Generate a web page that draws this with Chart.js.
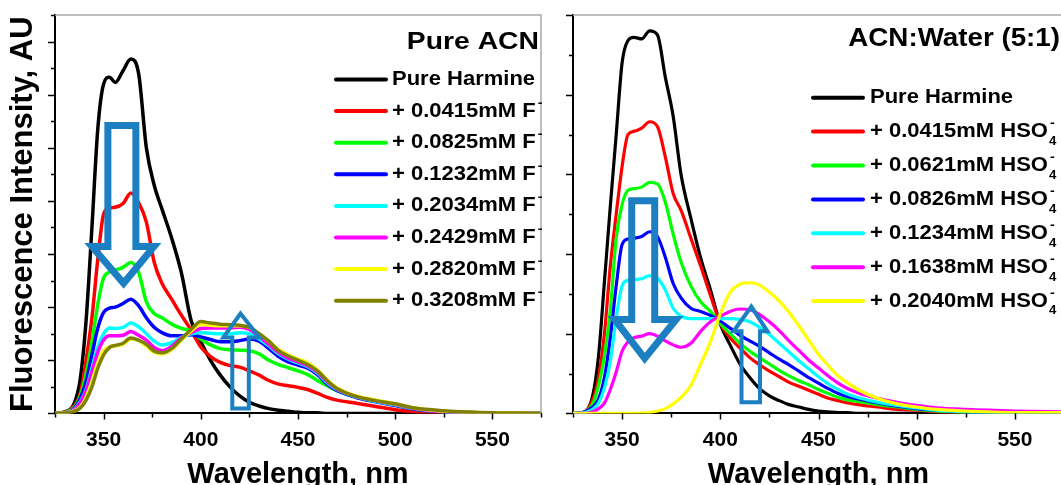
<!DOCTYPE html>
<html>
<head>
<meta charset="utf-8">
<script src="https://cdn.jsdelivr.net/npm/chart.js@4.4.1/dist/chart.umd.min.js"></script>
<style>
  html, body { margin: 0; padding: 0; background: #fff; overflow: hidden; }
  body { width: 1061px; height: 485px; position: relative; }
  canvas { position: absolute; top: 0; }
  #left { left: 0; }
  #right { left: 545px; }
</style>
</head>
<body>
<canvas id="left" width="560" height="485"></canvas>
<canvas id="right" width="530" height="485"></canvas>
<script>
const FONT = '"Liberation Sans", Arial, Helvetica, sans-serif';

// wavelength grid (nm) shared by every curve
const wavelengths = [325, 330, 335, 338, 341, 344, 347, 350, 353, 356, 360, 364, 368, 372, 376, 380,
  385, 390, 395, 400, 405, 410, 415, 420, 425, 430, 435, 440, 445, 450, 455, 460, 465, 470,
  480, 490, 500, 510, 525, 550, 575];
const xTickValues = [350, 400, 450, 500, 550];

// ---- Pure ACN + F- ----
const acnLabels = ['Pure Harmine', '+ 0.0415mM F', '+ 0.0825mM F', '+ 0.1232mM F',
  '+ 0.2034mM F', '+ 0.2429mM F', '+ 0.2820mM F', '+ 0.3208mM F'];
const acnColors = ['#000000', '#ff0000', '#00ff00', '#0000ff', '#00ffff', '#ff00ff', '#ffff00', '#808000'];
const acnHarmine = [0, 0.03, 0.2, 0.65, 1.75, 3.5, 5.35, 6.2, 6.33, 6.23, 6.45, 6.67, 6.4, 5.0, 4.3, 3.85, 3.3, 2.65, 1.75, 1.35, 1.0, 0.72, 0.5, 0.33, 0.21, 0.14, 0.09, 0.06, 0.04, 0.02, 0.01, 0.01, 0, 0, 0, 0, 0, 0, 0, 0, 0];
const acnF0415 = [0, 0.02, 0.15, 0.37, 1.0, 1.8, 2.9, 3.75, 3.87, 3.88, 3.95, 4.15, 3.97, 3.6, 2.85, 2.45, 2.15, 1.85, 1.57, 1.25, 1.07, 0.96, 0.9, 0.87, 0.8, 0.72, 0.62, 0.55, 0.52, 0.49, 0.45, 0.38, 0.3, 0.25, 0.19, 0.13, 0.07, 0.03, 0.01, 0, 0];
const acnF0825 = [0, 0.02, 0.12, 0.33, 0.75, 1.35, 2.05, 2.55, 2.66, 2.7, 2.75, 2.84, 2.66, 2.1, 1.88, 1.8, 1.68, 1.6, 1.55, 1.4, 1.29, 1.22, 1.2, 1.19, 1.18, 1.12, 1.0, 0.92, 0.86, 0.8, 0.73, 0.62, 0.52, 0.43, 0.31, 0.23, 0.16, 0.08, 0.03, 0.01, 0];
const acnF1232 = [0, 0.01, 0.1, 0.28, 0.6, 1.1, 1.6, 1.9, 1.98, 2.0, 2.07, 2.15, 2.03, 1.8, 1.62, 1.52, 1.46, 1.46, 1.48, 1.44, 1.39, 1.35, 1.35, 1.37, 1.4, 1.36, 1.22, 1.07, 0.97, 0.91, 0.85, 0.73, 0.55, 0.43, 0.3, 0.22, 0.15, 0.08, 0.03, 0.01, 0];
const acnF2034 = [0, 0.01, 0.08, 0.22, 0.45, 0.85, 1.25, 1.5, 1.61, 1.6, 1.62, 1.7, 1.63, 1.5, 1.36, 1.29, 1.33, 1.43, 1.5, 1.52, 1.51, 1.5, 1.5, 1.52, 1.5, 1.4, 1.27, 1.12, 1.02, 0.95, 0.88, 0.76, 0.58, 0.45, 0.31, 0.23, 0.16, 0.09, 0.03, 0.01, 0];
const acnF2429 = [0, 0.01, 0.07, 0.2, 0.42, 0.78, 1.15, 1.38, 1.46, 1.46, 1.47, 1.54, 1.47, 1.38, 1.24, 1.18, 1.26, 1.42, 1.52, 1.6, 1.61, 1.61, 1.61, 1.62, 1.58, 1.45, 1.3, 1.15, 1.04, 0.97, 0.9, 0.78, 0.6, 0.46, 0.32, 0.24, 0.17, 0.09, 0.03, 0.01, 0];
const acnF2820 = [0, 0.01, 0.05, 0.12, 0.3, 0.6, 0.95, 1.18, 1.25, 1.27, 1.3, 1.4, 1.37, 1.27, 1.15, 1.12, 1.2, 1.38, 1.55, 1.68, 1.66, 1.65, 1.65, 1.65, 1.62, 1.5, 1.36, 1.2, 1.1, 1.02, 0.95, 0.82, 0.63, 0.48, 0.33, 0.25, 0.18, 0.1, 0.04, 0.01, 0];
const acnF3208 = [0, 0.01, 0.04, 0.1, 0.25, 0.5, 0.85, 1.1, 1.24, 1.28, 1.32, 1.42, 1.38, 1.3, 1.17, 1.14, 1.22, 1.4, 1.58, 1.73, 1.7, 1.68, 1.67, 1.66, 1.62, 1.5, 1.36, 1.18, 1.08, 1.0, 0.92, 0.8, 0.62, 0.47, 0.32, 0.24, 0.18, 0.1, 0.05, 0.01, 0];

// ---- ACN:Water (5:1) + HSO4- ----
const watLabels = ['Pure Harmine', '+ 0.0415mM HSO', '+ 0.0621mM HSO', '+ 0.0826mM HSO',
  '+ 0.1234mM HSO', '+ 0.1638mM HSO', '+ 0.2040mM HSO'];
const watColors = ['#000000', '#ff0000', '#00ff00', '#0000ff', '#00ffff', '#ff00ff', '#ffff00'];
const watHarmine = [0, 0.01, 0.22, 0.72, 1.65, 2.6, 3.5, 4.4, 4.68, 4.72, 4.7, 4.8, 4.75, 4.22, 3.73, 3.0, 2.45, 1.95, 1.55, 1.12, 0.86, 0.62, 0.45, 0.31, 0.22, 0.16, 0.11, 0.08, 0.05, 0.03, 0.02, 0.01, 0.01, 0, 0, 0, 0, 0, 0, 0, 0];
const watH0415 = [0, 0.01, 0.17, 0.45, 1.0, 1.85, 2.5, 3.1, 3.5, 3.54, 3.58, 3.66, 3.6, 3.22, 2.76, 2.55, 2.2, 1.85, 1.48, 1.13, 0.95, 0.82, 0.7, 0.61, 0.53, 0.46, 0.39, 0.34, 0.29, 0.24, 0.19, 0.16, 0.13, 0.11, 0.08, 0.05, 0.04, 0.02, 0.01, 0, 0];
const watH0621 = [0, 0.01, 0.12, 0.35, 0.72, 1.3, 2.2, 2.62, 2.8, 2.82, 2.84, 2.9, 2.88, 2.65, 2.25, 1.9, 1.6, 1.4, 1.28, 1.13, 1.0, 0.88, 0.78, 0.7, 0.62, 0.54, 0.47, 0.41, 0.36, 0.3, 0.25, 0.2, 0.17, 0.15, 0.11, 0.08, 0.05, 0.03, 0.01, 0, 0];
const watH0826 = [0, 0.01, 0.08, 0.18, 0.45, 0.95, 1.6, 2.12, 2.19, 2.2, 2.22, 2.28, 2.22, 1.96, 1.63, 1.45, 1.32, 1.28, 1.23, 1.16, 1.07, 0.98, 0.91, 0.84, 0.76, 0.68, 0.61, 0.53, 0.45, 0.38, 0.31, 0.25, 0.21, 0.18, 0.13, 0.09, 0.06, 0.04, 0.02, 0.01, 0];
const watH1234 = [0, 0.005, 0.05, 0.13, 0.32, 0.65, 1.2, 1.6, 1.67, 1.68, 1.69, 1.73, 1.7, 1.55, 1.32, 1.22, 1.19, 1.19, 1.19, 1.19, 1.19, 1.18, 1.15, 1.08, 0.99, 0.88, 0.77, 0.66, 0.56, 0.46, 0.37, 0.3, 0.24, 0.2, 0.14, 0.1, 0.07, 0.04, 0.02, 0.01, 0];
const watH1638 = [0, 0, 0.02, 0.06, 0.13, 0.3, 0.52, 0.78, 0.9, 0.95, 0.97, 1.0, 0.97, 0.91, 0.86, 0.83, 0.88, 1.03, 1.15, 1.22, 1.28, 1.31, 1.3, 1.24, 1.15, 1.04, 0.91, 0.79, 0.67, 0.57, 0.47, 0.38, 0.31, 0.26, 0.19, 0.14, 0.1, 0.07, 0.05, 0.03, 0.02];
const watH2040 = [0, 0, 0, 0, 0, 0, 0, 0, 0, 0, 0.005, 0.01, 0.03, 0.06, 0.12, 0.2, 0.35, 0.62, 0.9, 1.25, 1.52, 1.62, 1.64, 1.61, 1.52, 1.41, 1.27, 1.1, 0.92, 0.74, 0.6, 0.47, 0.38, 0.3, 0.19, 0.12, 0.08, 0.05, 0.03, 0.01, 0.01];

// arrows in data units: shaft x pair, shaft end y, head base y, head x pair, tip [x, y]
const acnArrows = [
  { shaft: [352.2, 366.6], end: 5.42, base: 3.14, head: [344, 375.9], tip: [360.3, 2.45], lw: 7 },
  { shaft: [416.2, 424.7], end: 0.09, base: 1.43, head: [411.6, 430.2], tip: [420.4, 1.88], lw: 4 }
];
const watArrows = [
  { shaft: [354.9, 366.6], end: 2.67, base: 1.18, head: [346.2, 377.5], tip: [361.5, 0.69], lw: 7 },
  { shaft: [410.8, 420.2], end: 0.14, base: 1.03, head: [406.7, 424.0], tip: [415.8, 1.34], lw: 4 }
];

// draws text squeezed/stretched horizontally, returns the right edge
function wideText(ctx, str, x, y, font, sx, align) {
  ctx.save();
  ctx.font = font;
  const w = ctx.measureText(str).width * sx;
  const left = align === 'right' ? x - w : x;
  ctx.translate(left, y);
  ctx.scale(sx, 1);
  ctx.textBaseline = 'middle';
  ctx.textAlign = 'left';
  ctx.fillStyle = '#000';
  ctx.fillText(str, 0, 0);
  ctx.restore();
  return left + w;
}

const decor = {
  id: 'decor',
  afterDatasetsDraw(chart, args, opts) {
    const { ctx, chartArea: a, scales: { x, y } } = chart;
    ctx.save();

    // top / right frame
    ctx.strokeStyle = '#a8a8a8';
    ctx.lineWidth = 1.5;
    ctx.beginPath();
    ctx.moveTo(a.left, a.top);
    ctx.lineTo(a.right, a.top);
    ctx.lineTo(a.right, a.bottom);
    ctx.stroke();

    // tick marks (major + minor)
    ctx.strokeStyle = '#000';
    ctx.lineWidth = 1.5;
    ctx.beginPath();
    for (let v = x.min; v <= x.max; v += 25) {
      const px = Math.round(x.getPixelForValue(v)) + 0.5;
      ctx.moveTo(px, a.bottom);
      ctx.lineTo(px, a.bottom + (v % 50 === 0 ? 6 : 4));
    }
    for (let v = 0; v <= y.max + 1e-6; v += 0.5) {
      const py = Math.round(y.getPixelForValue(v)) + 0.5;
      ctx.moveTo(a.left, py);
      ctx.lineTo(a.left - (v % 1 === 0 ? 7 : 4), py);
    }
    ctx.stroke();

    // blue outline arrows
    ctx.strokeStyle = '#1b7fc2';
    ctx.lineJoin = 'miter';
    opts.arrows.forEach(ar => {
      const X = v => x.getPixelForValue(v), Y = v => y.getPixelForValue(v);
      ctx.lineWidth = ar.lw;
      ctx.beginPath();
      ctx.moveTo(X(ar.shaft[0]), Y(ar.end));
      ctx.lineTo(X(ar.shaft[1]), Y(ar.end));
      ctx.lineTo(X(ar.shaft[1]), Y(ar.base));
      ctx.lineTo(X(ar.head[1]), Y(ar.base));
      ctx.lineTo(X(ar.tip[0]), Y(ar.tip[1]));
      ctx.lineTo(X(ar.head[0]), Y(ar.base));
      ctx.lineTo(X(ar.shaft[0]), Y(ar.base));
      ctx.closePath();
      ctx.stroke();
    });

    // panel heading
    const h = opts.heading;
    wideText(ctx, h.text, h.x, h.y, 'bold ' + h.size + 'px ' + FONT, h.sx, 'right');

    // legend
    const lg = opts.legend;
    chart.data.datasets.forEach((ds, i) => {
      const cy = lg.y0 + i * lg.step;
      ctx.strokeStyle = ds.borderColor;
      ctx.lineWidth = 4;
      ctx.lineCap = 'round';
      ctx.beginPath();
      ctx.moveTo(lg.x0, cy);
      ctx.lineTo(lg.x1, cy);
      ctx.stroke();
      const end = wideText(ctx, ds.label, lg.textX, cy, 'bold 20px ' + FONT, lg.sx);
      if (ds.sub) wideText(ctx, ds.sub, end + 1, cy + 10, 'bold 12px ' + FONT, 1.1);
      if (ds.sup) wideText(ctx, ds.sup, end + 2, cy - 8, 'bold 13px ' + FONT, 1.1);
    });
    ctx.restore();
  }
};

function buildDatasets(labels, colors, series, sup, sub, width) {
  return series.map((s, i) => ({
    label: labels[i],
    sup: i > 0 ? sup : '',
    sub: i > 0 ? sub : '',
    data: wavelengths.map((w, k) => ({ x: w, y: s[k] })),
    borderColor: colors[i],
    borderWidth: width,
    pointRadius: 0,
    fill: false,
    cubicInterpolationMode: 'monotone',
    order: -i
  }));
}

function makeChart(id, datasets, yMax, yTitle, pad, decorOpts) {
  return new Chart(document.getElementById(id), {
    type: 'line',
    data: { datasets },
    plugins: [decor],
    options: {
      responsive: false,
      animation: false,
      devicePixelRatio: 1,
      layout: { padding: pad },
      plugins: {
        legend: { display: false },
        tooltip: { enabled: false },
        decor: decorOpts
      },
      scales: {
        x: {
          type: 'linear',
          min: 325,
          max: 575,
          afterBuildTicks: axis => { axis.ticks = xTickValues.map(v => ({ value: v })); },
          grid: { display: false, drawTicks: false },
          border: { display: true, color: '#000', width: 2 },
          ticks: { color: '#000', padding: 14, font: { family: FONT, size: 21, weight: 'bold' } },
          title: {
            display: true,
            text: 'Wavelength, nm',
            color: '#000',
            padding: { top: 0, bottom: 1 },
            font: { family: FONT, size: 29, weight: 'bold', lineHeight: 0.6 }
          }
        },
        y: {
          min: 0,
          max: yMax,
          grid: { display: false, drawTicks: false },
          border: { display: true, color: '#000', width: 2 },
          ticks: { display: false },
          title: yTitle
        }
      }
    }
  });
}

makeChart('left',
  buildDatasets(acnLabels, acnColors,
    [acnHarmine, acnF0415, acnF0825, acnF1232, acnF2034, acnF2429, acnF2820, acnF3208], '-', '', 3.5),
  7.5,
  {
    display: true,
    text: 'Fluorescence Intensity, AU',
    color: '#000',
    padding: { top: 0, bottom: 16 },
    font: { family: FONT, size: 31, weight: 'bold', lineHeight: 1 }
  },
  { top: 15, left: 8, right: 19, bottom: 0 },
  {
    arrows: acnArrows,
    heading: { text: 'Pure ACN', x: 539, y: 42, size: 24, sx: 1.18 },
    legend: { x0: 336, x1: 386, textX: 392, y0: 79.5, step: 31.6, sx: 1.1 }
  });

makeChart('right',
  buildDatasets(watLabels, watColors,
    [watHarmine, watH0415, watH0621, watH0826, watH1234, watH1638, watH2040], '-', '4', 3.2),
  5,
  { display: false },
  { top: 15, left: 28, right: 11, bottom: 0 },
  {
    arrows: watArrows,
    heading: { text: 'ACN:Water (5:1)', x: 515, y: 39, size: 25, sx: 1.11 },
    legend: { x0: 268, x1: 318, textX: 325, y0: 97.7, step: 33.9, sx: 1.1 }
  });
</script>
</body>
</html>
